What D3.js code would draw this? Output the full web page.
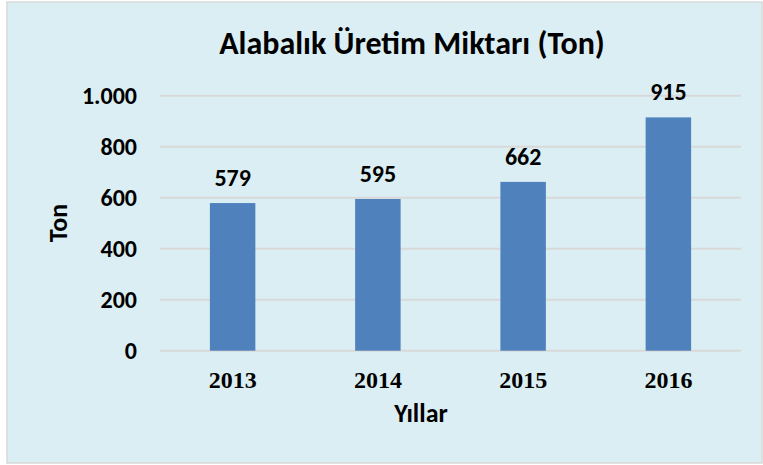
<!DOCTYPE html>
<html>
<head>
<meta charset="utf-8">
<style>
  body { margin: 0; background: #fff; }
  text { font-family: Carlito, Lato, "Open Sans", sans-serif; font-weight: bold; fill: #000; }
  .xt { font-family: "Liberation Serif", "DejaVu Serif", serif; }
</style>
</head>
<body>
<div id="chart"></div>
<script src="https://d3js.org/d3.v7.min.js"></script>
<script>
    // data
    var years = ["2013", "2014", "2015", "2016"];
    var tons = [579, 595, 662, 915];
    var yTicks = [0, 200, 400, 600, 800, 1000];

    var width = 763, height = 465;
    var margin = {left: 160, right: 22, top: 95.7, bottom: 114.3};

    var svg = d3.select("#chart")
        .append("svg")
        .attr("width", width)
        .attr("height", height);

    // chart area background
    svg.append("rect")
        .attr("x", 7).attr("y", 2)
        .attr("width", 755).attr("height", 461)
        .attr("fill", "#DBEEF3")
        .attr("stroke", "#D9D9D9")
        .attr("stroke-width", 1.5);

    var x = d3.scaleBand()
        .domain(years)
        .range([margin.left, width - margin.right])
        .paddingInner(0.687)
        .paddingOuter(0.3435);

    var y = d3.scaleLinear()
        .domain([0, 1000])
        .range([height - margin.bottom, margin.top]);

    // gridlines
    svg.append("g")
        .selectAll("line")
        .data(yTicks)
        .enter().append("line")
        .attr("x1", margin.left)
        .attr("x2", width - margin.right)
        .attr("y1", function(d) { return y(d); })
        .attr("y2", function(d) { return y(d); })
        .attr("stroke", "#D9D9D9")
        .attr("stroke-width", 2);

    // y tick labels (turkish thousands separator)
    var fmt = function(d) { return d3.format(",")(d).replace(/,/g, "."); };
    svg.append("g")
        .selectAll("text")
        .data(yTicks)
        .enter().append("text")
        .attr("x", 137)
        .attr("y", function(d) { return y(d); })
        .attr("dy", "0.33em")
        .attr("text-anchor", "end")
        .style("font-size", "24px")
        .text(fmt);

    // bars
    svg.append("g")
        .selectAll("rect")
        .data(tons)
        .enter().append("rect")
        .attr("x", function(d, i) { return x(years[i]); })
        .attr("y", function(d) { return y(d); })
        .attr("width", x.bandwidth())
        .attr("height", function(d) { return y(0) - y(d); })
        .attr("fill", "#4F81BD");

    // value labels
    svg.append("g")
        .selectAll("text")
        .data(tons)
        .enter().append("text")
        .attr("x", function(d, i) { return x(years[i]) + x.bandwidth() / 2; })
        .attr("y", function(d) { return y(d) - 17; })
        .attr("text-anchor", "middle")
        .style("font-size", "24px")
        .text(function(d) { return d; });

    // x tick labels
    svg.append("g")
        .selectAll("text")
        .data(years)
        .enter().append("text")
        .attr("class", "xt")
        .attr("x", function(d) { return x(d) + x.bandwidth() / 2; })
        .attr("y", 388)
        .attr("text-anchor", "middle")
        .style("font-size", "24px")
        .text(function(d) { return d; });

    // titles
    svg.append("text")
        .attr("x", 412)
        .attr("y", 54)
        .attr("text-anchor", "middle")
        .style("font-size", "32px")
        .text("Alabalık Üretim Miktarı (Ton)");

    svg.append("text")
        .attr("x", 421)
        .attr("y", 422)
        .attr("text-anchor", "middle")
        .style("font-size", "26px")
        .text("Yıllar");

    svg.append("text")
        .attr("transform", "translate(67,223) rotate(-90)")
        .attr("text-anchor", "middle")
        .style("font-size", "26px")
        .text("Ton");
</script>
</body>
</html>
